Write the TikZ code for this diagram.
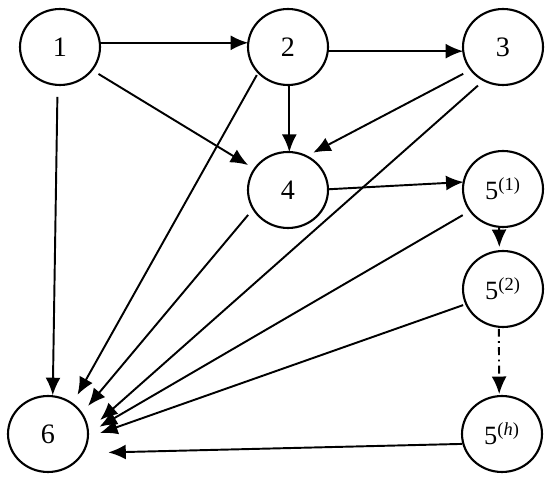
\documentclass[tikz,border=0pt]{standalone}
\usepackage{fontspec}
\setmainfont{Liberation Serif}
\usetikzlibrary{arrows.meta,calc,shapes.geometric}
\tikzset{
  state/.style={draw,ellipse,line width=1.2pt,minimum width=1.6cm,minimum height=1.52cm,inner sep=0pt,font=\fontsize{16}{19}\selectfont},
  substate/.style={font=\fontsize{15}{18}\selectfont},
  arr/.style={line width=1.1pt,-{Latex[length=10pt,width=8.5pt]}},
}
\begin{document}
\begin{tikzpicture}[x=0.02cm,y=0.02cm]
  \useasboundingbox (0,0) rectangle (550,479);
  \node[state] (n1) at (60,432) {1};
  \node[state] (n2) at (288,432) {2};
  \node[state] (n3) at (503,432) {3};
  \node[state] (n4) at (288,289) {4};
  \node[state,substate] (n51) at (503,290) {5\textsuperscript{(1)}};
  \node[state,substate] (n52) at (503,190) {5\textsuperscript{(2)}};
  \node[state,substate] (n5h) at (502,45) {5\textsuperscript{(\textit{h})}};
  \node[state] (n6) at (48,45) {6};
  % top rows
  \draw[arr] ($(n1)+(6:40)$) -- ($(n2)+(174:40)$);
  \draw[arr] ($(n2)+(-6:40)$) -- ($(n3)+(186:40)$);
  \draw[arr] ($(n1)+(-35:47)$) -- ($(n4)+(148:47)$);
  \draw[arr] ($(n2)+(-88:38)$) -- ($(n4)+(88:38)$);
  \draw[arr] ($(n3)+(214:48)$) -- ($(n4)+(56:45)$);
  \draw[arr] ($(n4)+(1:40)$) -- ($(n51)+(170:40)$);
  \draw[arr] ($(n51)+(-96:38)$) -- ($(n52)+(95:42)$);
  \draw[arr,dash pattern=on 4.5pt off 2.5pt on 1pt off 2.5pt] ($(n52)+(-96:40)$) -- ($(n5h)+(94:40)$);
  % into 6
  \draw[arr] ($(n1)+(-93:50)$) -- ($(n6)+(83:39)$);
  \draw[arr] ($(n2)+(222:42)$) -- ($(n6)+(53:49)$);
  \draw[arr] ($(n4)+(212:47)$) -- ($(n6)+(35:49)$);
  \draw[arr] ($(n3)+(237:46)$) -- ($(n6)+(15:54)$);
  \draw[arr] ($(n51)+(213:48)$) -- ($(n6)+(8:52)$);
  \draw[arr] ($(n52)+(202:43)$) -- ($(n6)+(1:52)$);
  \draw[arr] ($(n5h)+(194:41)$) -- ($(n6)+(-17:63)$);
\end{tikzpicture}
\end{document}
